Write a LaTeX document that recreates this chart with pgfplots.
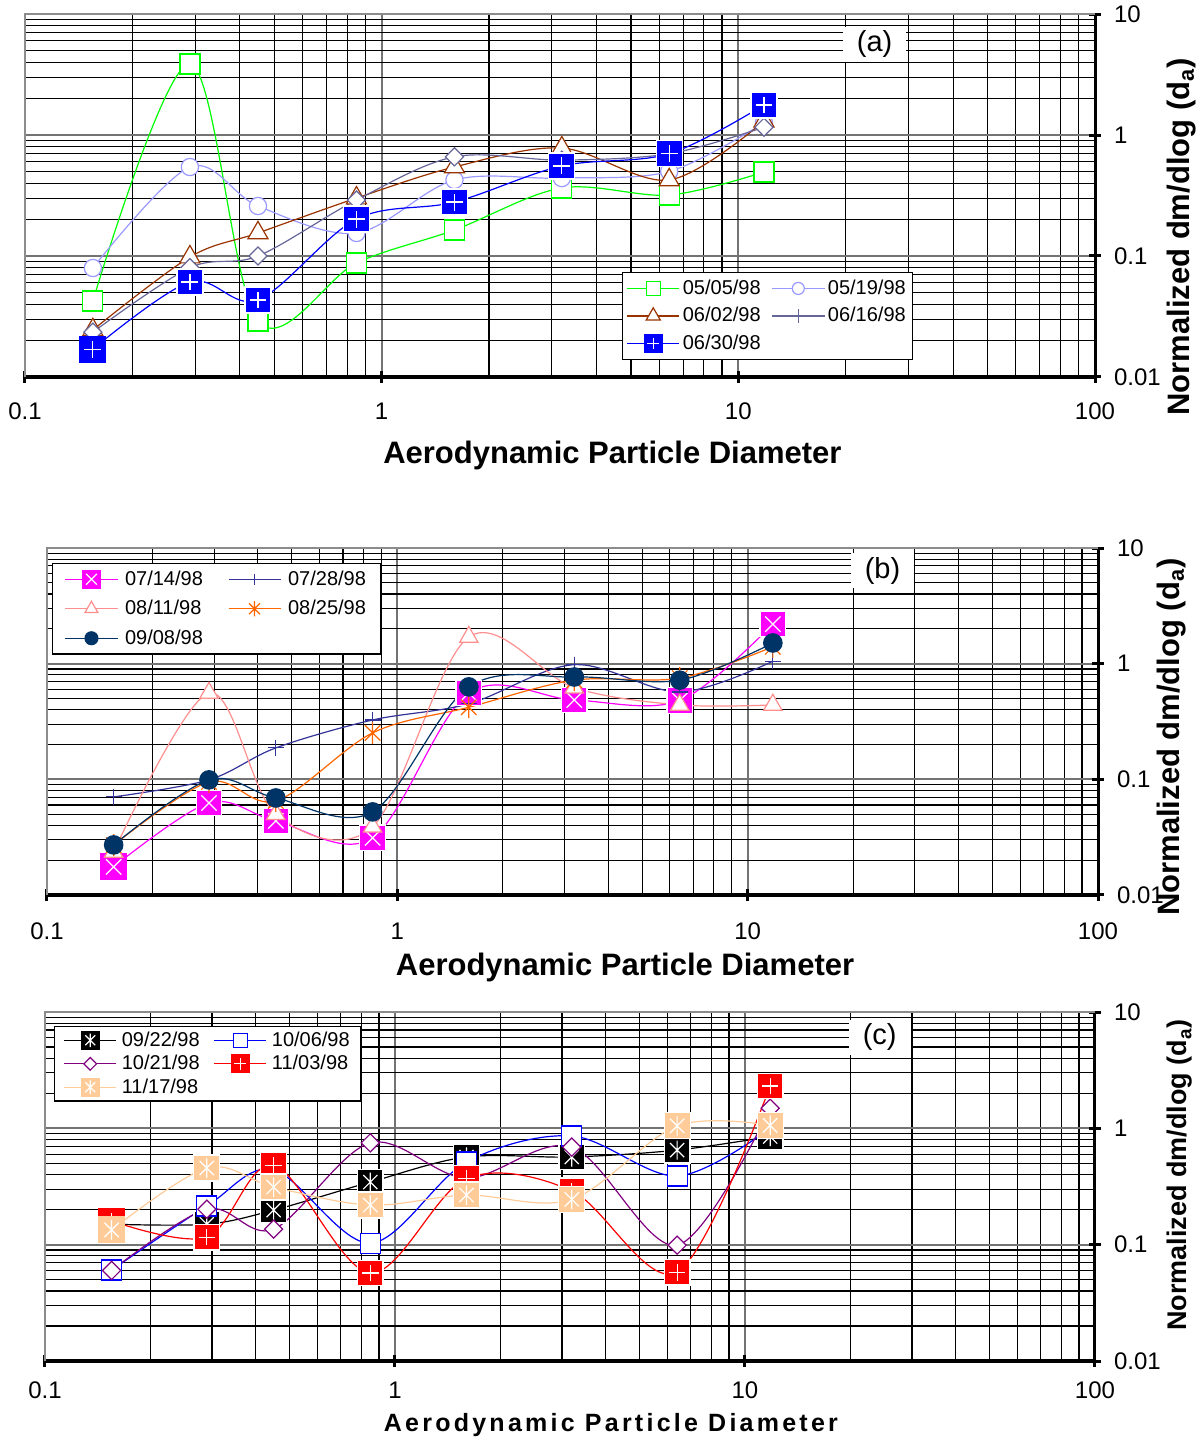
\documentclass[border=0pt]{standalone}
\usepackage{fontspec}
\setmainfont{Liberation Sans}
\usepackage{pgfplots}
\usepackage{pgfplotstable}
\pgfplotsset{compat=1.18}

\definecolor{cGreen}{HTML}{00FF00}
\definecolor{cLBlue}{HTML}{9999FF}
\definecolor{cBrown}{HTML}{993300}
\definecolor{cSlate}{HTML}{666699}
\definecolor{cBlue}{HTML}{0000FF}
\definecolor{cMag}{HTML}{FF00FF}
\definecolor{cIndigo}{HTML}{333399}
\definecolor{cSalmon}{HTML}{FF8F8F}
\definecolor{cOrange}{HTML}{FF6600}
\definecolor{cNavy}{HTML}{003366}
\definecolor{cPurple}{HTML}{800080}
\definecolor{cRed}{HTML}{FF0000}
\definecolor{cPeach}{HTML}{FFCC99}

\pgfdeclareplotmark{sqplus}{%
  \pgfpathrectangle{\pgfqpoint{-\pgfplotmarksize}{-\pgfplotmarksize}}{\pgfqpoint{2\pgfplotmarksize}{2\pgfplotmarksize}}%
  \pgfusepathqfillstroke
  \pgfsetstrokecolor{white}\pgfsetlinewidth{0.6pt}%
  \pgfpathmoveto{\pgfqpoint{-0.65\pgfplotmarksize}{0pt}}\pgfpathlineto{\pgfqpoint{0.65\pgfplotmarksize}{0pt}}%
  \pgfpathmoveto{\pgfqpoint{0pt}{-0.65\pgfplotmarksize}}\pgfpathlineto{\pgfqpoint{0pt}{0.65\pgfplotmarksize}}%
  \pgfusepathqstroke}
\pgfdeclareplotmark{sqx}{%
  \pgfpathrectangle{\pgfqpoint{-\pgfplotmarksize}{-\pgfplotmarksize}}{\pgfqpoint{2\pgfplotmarksize}{2\pgfplotmarksize}}%
  \pgfusepathqfillstroke
  \pgfsetstrokecolor{white}\pgfsetlinewidth{0.6pt}%
  \pgfpathmoveto{\pgfqpoint{-0.6\pgfplotmarksize}{-0.6\pgfplotmarksize}}\pgfpathlineto{\pgfqpoint{0.6\pgfplotmarksize}{0.6\pgfplotmarksize}}%
  \pgfpathmoveto{\pgfqpoint{-0.6\pgfplotmarksize}{0.6\pgfplotmarksize}}\pgfpathlineto{\pgfqpoint{0.6\pgfplotmarksize}{-0.6\pgfplotmarksize}}%
  \pgfusepathqstroke}
\pgfdeclareplotmark{sqast}{%
  \pgfpathrectangle{\pgfqpoint{-\pgfplotmarksize}{-\pgfplotmarksize}}{\pgfqpoint{2\pgfplotmarksize}{2\pgfplotmarksize}}%
  \pgfusepathqfillstroke
  \pgfsetstrokecolor{white}\pgfsetlinewidth{0.6pt}%
  \pgfpathmoveto{\pgfqpoint{-0.55\pgfplotmarksize}{-0.55\pgfplotmarksize}}\pgfpathlineto{\pgfqpoint{0.55\pgfplotmarksize}{0.55\pgfplotmarksize}}%
  \pgfpathmoveto{\pgfqpoint{-0.55\pgfplotmarksize}{0.55\pgfplotmarksize}}\pgfpathlineto{\pgfqpoint{0.55\pgfplotmarksize}{-0.55\pgfplotmarksize}}%
  \pgfpathmoveto{\pgfqpoint{0pt}{-0.75\pgfplotmarksize}}\pgfpathlineto{\pgfqpoint{0pt}{0.75\pgfplotmarksize}}%
  \pgfusepathqstroke}
\pgfdeclareplotmark{ast6}{%
  \pgfpathmoveto{\pgfqpoint{-0.7\pgfplotmarksize}{-0.7\pgfplotmarksize}}\pgfpathlineto{\pgfqpoint{0.7\pgfplotmarksize}{0.7\pgfplotmarksize}}%
  \pgfpathmoveto{\pgfqpoint{-0.7\pgfplotmarksize}{0.7\pgfplotmarksize}}\pgfpathlineto{\pgfqpoint{0.7\pgfplotmarksize}{-0.7\pgfplotmarksize}}%
  \pgfpathmoveto{\pgfqpoint{0pt}{-\pgfplotmarksize}}\pgfpathlineto{\pgfqpoint{0pt}{\pgfplotmarksize}}%
  \pgfusepathqstroke}

\tikzset{pletter/.style={fill=white, inner xsep=7pt, inner ysep=2pt, font=\fontsize{14.5}{17}\selectfont}}

\pgfplotsset{
  scale only axis, clip=false,
  xmin=0.1, xmax=100, ymin=0.01, ymax=10,
  axis x line*=bottom, axis y line*=right,
  x axis line style={line width=2pt, -},
  y axis line style={line width=1.5pt, -},
  xtick={0.1,1,10,100}, xticklabels={{0.1},{1},{10},{100}},
  ytick={0.01,0.1,1,10}, yticklabels={{0.01},{0.1},{1},{10}},
  minor xtick={0.2,0.3,0.4,0.5,0.6,0.7,0.8,0.9,2,3,4,5,6,7,8,9,20,30,40,50,60,70,80,90},
  minor ytick={0.02,0.03,0.04,0.05,0.06,0.07,0.08,0.09,0.2,0.3,0.4,0.5,0.6,0.7,0.8,0.9,2,3,4,5,6,7,8,9},
  grid=both,
  major grid style={black!55, line width=0.9pt},
  minor grid style={black, line width=0.55pt},
  tick align=center, major tick length=6pt, minor tick length=0pt,
  major tick style={black, line width=1.5pt},
  minor tick style={draw=none},
  tick label style={font=\fontsize{12}{14}\selectfont},
  yticklabel style={xshift=3pt},
  legend cell align=left,
  legend image code/.code={\draw[mark repeat=2,mark phase=2,#1, every mark/.append style={scale=0.7}] plot coordinates {(0pt,0pt) (13pt,0pt) (26pt,0pt)};},
  every axis plot/.append style={line width=0.6pt, smooth, tension=0.55},
}

\pgfplotstableread{
x     a b c d e
0.155 0.0425 0.0796 0.0245 0.0235 0.0170
0.29  3.86   0.544  0.098  0.080  0.061
0.45  0.029  0.259  0.155  0.100  0.0433
0.85  0.0875 0.155  0.301  0.290  0.202
1.6   0.164  0.425  0.544  0.660  0.279
3.2   0.365  0.440  0.780  0.620  0.555
6.4   0.319  0.500  0.425  0.700  0.700
11.8  0.494  1.26   1.30   1.16   1.77
}\tabA

\pgfplotstableread{
x     a b c d e
0.155 0.0175 0.0705 0.0236 0.0270 0.0271
0.29  0.0625 0.099  0.558  0.095  0.0989
0.45  0.0437 0.187  0.050  0.065  0.069
0.85  0.0312 0.326  0.0389 0.252  0.0523
1.6   0.558  0.450  1.70   0.420  0.630
3.2   0.485  0.980  0.620  0.720  0.767
6.4   0.480  0.570  0.440  0.750  0.720
11.8  2.20   1.05   0.440  1.40   1.51
}\tabB

\pgfplotstableread{
x     a b c d e
0.155 0.150 0.0605 0.060 0.160 0.134
0.29  0.150 0.215  0.202 0.116 0.456
0.45  0.198 0.440  0.136 0.483 0.313
0.85  0.345 0.103  0.750 0.057 0.219
1.6   0.567 0.513  0.374 0.370 0.267
3.2   0.567 0.860  0.690 0.290 0.245
6.4   0.650 0.389  0.099 0.058 1.05
11.8  0.850 1.00   1.49  2.31  1.06
}\tabC

\begin{document}
\begin{tikzpicture}
\path[use as bounding box] (0pt,0pt) rectangle (602pt,720.5pt);

% ---------------- (a)
\begin{loglogaxis}[at={(12.5pt,532pt)}, anchor=south west, width=535pt, height=181.5pt,
  xlabel={Aerodynamic Particle Diameter},
  ylabel={Normalized dm/dlog (d\textsubscript{a})},
  xticklabel style={yshift=-6.5pt},
  xlabel style={at={(axis description cs:0.549,-0.215)}, anchor=center, font=\bfseries\fontsize{15.5}{18}\selectfont},
  ylabel style={at={(axis description cs:1.081,0.386)}, anchor=center, font=\bfseries\fontsize{15.5}{18}\selectfont},
  legend columns=2,
  legend style={at={(axis description cs:0.558,0.289)}, anchor=north west, draw=black, line width=0.6pt,
    font=\fontsize{10}{12}\selectfont, inner xsep=2pt, inner ysep=2pt,
    nodes={inner sep=1.5pt}, row sep=2pt,
    /tikz/every even column/.append style={column sep=4pt}},
]
\draw[black!45, line width=1pt] (rel axis cs:0,0) -- (rel axis cs:0,1) -- (rel axis cs:1,1);
\addplot[color=cGreen, mark=square*, mark size=5pt, mark options={fill=white, solid}] table[y=a] {\tabA};
\addlegendentry{05/05/98}
\addplot[color=cLBlue, mark=*, mark size=4.3pt, mark options={fill=white, solid}] table[y=b] {\tabA};
\addlegendentry{05/19/98}
\addplot[color=cBrown, mark=triangle*, mark size=5.8pt, mark options={fill=white, solid}] table[y=c] {\tabA};
\addlegendentry{06/02/98}
\addplot[color=cSlate, mark=square*, mark size=3.2pt, mark options={fill=white, solid, rotate=45}, forget plot] table[y=d] {\tabA};
\addlegendimage{color=cSlate, line width=0.6pt, mark=|, mark size=5pt}
\addlegendentry{06/16/98}
\addplot[color=cBlue, mark=sqplus, mark size=6.5pt, mark options={fill=cBlue, solid}] table[y=e] {\tabA};
\addlegendentry{06/30/98}
\node[pletter] at (axis description cs:0.794,0.917) {(a)};
\end{loglogaxis}

% ---------------- (b)
\begin{loglogaxis}[at={(23.5pt,273pt)}, anchor=south west, width=525.5pt, height=173.5pt,
  xlabel={Aerodynamic Particle Diameter},
  ylabel={Normalized dm/dlog (d\textsubscript{a})},
  xticklabel style={yshift=-7.5pt},
  xlabel style={at={(axis description cs:0.55,-0.2075)}, anchor=center, font=\bfseries\fontsize{15.5}{18}\selectfont},
  ylabel style={at={(axis description cs:1.070,0.455)}, anchor=center, font=\bfseries\fontsize{15.5}{18}\selectfont},
  legend columns=2,
  legend style={at={(axis description cs:0.005,0.957)}, anchor=north west, draw=black, line width=0.6pt,
    font=\fontsize{10}{12}\selectfont, inner xsep=6pt, inner ysep=2pt,
    nodes={inner sep=1.5pt}, row sep=3pt,
    /tikz/every odd column/.append style={column sep=2pt},
    /tikz/every even column/.append style={column sep=11pt}},
]
\draw[black!45, line width=1pt] (rel axis cs:0,0) -- (rel axis cs:0,1) -- (rel axis cs:1,1);
\addplot[color=cMag, mark=sqx, mark size=6.4pt, mark options={fill=cMag, solid}] table[y=a] {\tabB};
\addlegendentry{07/14/98}
\addplot[color=cIndigo, mark=+, mark size=4pt, mark options={solid}] table[y=b] {\tabB};
\addlegendentry{07/28/98}
\addplot[color=cSalmon, mark=triangle*, mark size=5.3pt, mark options={fill=white, solid}] table[y=c] {\tabB};
\addlegendentry{08/11/98}
\addplot[color=cOrange, mark=ast6, mark size=5.5pt, mark options={solid}] table[y=d] {\tabB};
\addlegendentry{08/25/98}
\addplot[color=cNavy, mark=*, mark size=4.6pt, mark options={fill=cNavy, solid}] table[y=e] {\tabB};
\addlegendentry{09/08/98}
\node[pletter] at (axis description cs:0.795,0.934) {(b)};
\end{loglogaxis}

% ---------------- (c)
\begin{loglogaxis}[at={(22.5pt,40pt)}, anchor=south west, width=525pt, height=174.5pt,
  xlabel={Aerodynamic Particle Diameter},
  ylabel={Normalized dm/dlog (d\textsubscript{a})},
  xticklabel style={yshift=-4pt},
  xlabel style={at={(axis description cs:0.539,-0.183)}, anchor=center, font=\bfseries\fontsize{12.5}{15}\selectfont\addfontfeatures{LetterSpace=13}},
  ylabel style={at={(axis description cs:1.081,0.533)}, anchor=center, font=\bfseries\fontsize{13.5}{16}\selectfont},
  legend columns=2,
  legend style={at={(axis description cs:0.0086,0.96)}, anchor=north west, draw=black, line width=0.6pt,
    font=\fontsize{10}{12}\selectfont, inner xsep=4.5pt, inner ysep=1.5pt,
    nodes={inner sep=1pt}, row sep=1pt,
    /tikz/every odd column/.append style={column sep=1.5pt},
    /tikz/every even column/.append style={column sep=6pt}},
]
\draw[black!45, line width=1pt] (rel axis cs:0,0) -- (rel axis cs:0,1) -- (rel axis cs:1,1);
\addplot[color=black, mark=sqast, mark size=6.4pt, mark options={fill=black, solid}] table[y=a] {\tabC};
\addlegendentry{09/22/98}
\addplot[color=cBlue, mark=square*, mark size=5pt, mark options={fill=white, solid}] table[y=b] {\tabC};
\addlegendentry{10/06/98}
\addplot[color=cPurple, mark=square*, mark size=3.2pt, mark options={fill=white, solid, rotate=45}] table[y=c] {\tabC};
\addlegendentry{10/21/98}
\addplot[color=cRed, mark=sqplus, mark size=6.4pt, mark options={fill=cRed, solid}] table[y=d] {\tabC};
\addlegendentry{11/03/98}
\addplot[color=cPeach, mark=sqast, mark size=6.5pt, mark options={fill=cPeach, solid}] table[y=e] {\tabC};
\addlegendentry{11/17/98}
\node[pletter] at (axis description cs:0.795,0.928) {(c)};
\end{loglogaxis}
\end{tikzpicture}
\end{document}
